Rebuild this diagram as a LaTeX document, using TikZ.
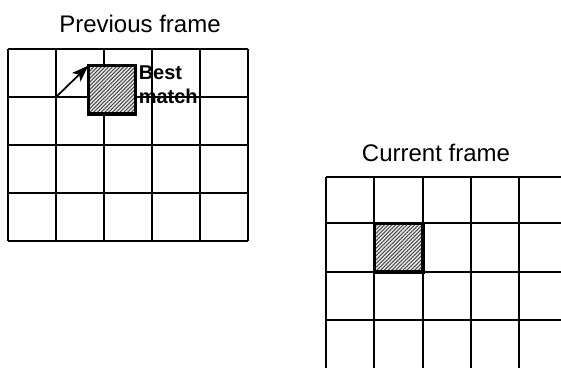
\documentclass[tikz,border=0pt]{standalone}
\usepackage{fontspec}
\setmainfont{Liberation Sans}
\usetikzlibrary{arrows.meta,patterns.meta}

\tikzset{
  gridline/.style={line width=1.5pt, black},
  blockbox/.style={draw=black, line width=2.6pt, inner sep=0pt, outer sep=0pt,
    preaction={fill=gray!15},
    pattern={Lines[angle=45,distance=2pt,line width=0.8pt]}, pattern color=black!70},
  framelabel/.style={font=\fontsize{18}{21.6}\selectfont, inner sep=0pt},
  matchlabel/.style={font=\bfseries\fontsize{15}{17.5}\selectfont, inner sep=0pt, align=left},
  motion/.style={line width=1.3pt, -{Stealth[length=12.5pt,width=9pt,inset=3pt]}}
}

\begin{document}
\begin{tikzpicture}[x=0.75pt,y=-0.75pt]
  \useasboundingbox (0,0) rectangle (561,368);
  \clip (0,0) rectangle (561,368);

  % previous frame: 5 x 4 blocks
  \foreach \gx in {8,56.1,104.2,152.2,200.3,248.3}
    \draw[gridline] (\gx,49) -- (\gx,241);
  \foreach \gy in {49,97,145,193,241}
    \draw[gridline] (8,\gy) -- (248.3,\gy);

  % current frame: runs past the right and bottom edges
  \foreach \gx in {326,374.3,422.7,470.7,518.7}
    \draw[gridline] (\gx,177) -- (\gx,372);
  \foreach \gy in {177,223.3,272,320}
    \draw[gridline] (326,\gy) -- (570,\gy);

  % frame titles
  \node[framelabel, anchor=base] (prevtitle) at (140,32) {Previous frame};
  \node[framelabel, anchor=base] (curtitle) at (436,161.7) {Current frame};

  % matched block in the previous frame and the block being coded
  \node[blockbox, minimum width=35.6pt, minimum height=36.2pt] (prevbest) at (112,89.8) {};
  \node[blockbox, minimum width=36.3pt, minimum height=36.5pt] (curblock) at (398.6,247.6) {};

  % motion vector
  \coordinate (origin) at (56.1,97);
  \draw[motion] (origin) -- (prevbest.north west);

  % the base anchor of a two-line node sits on the last line
  \node[matchlabel, anchor=base west] (bestlabel) at (138.5,103.3) {Best\\match};
\end{tikzpicture}
\end{document}
